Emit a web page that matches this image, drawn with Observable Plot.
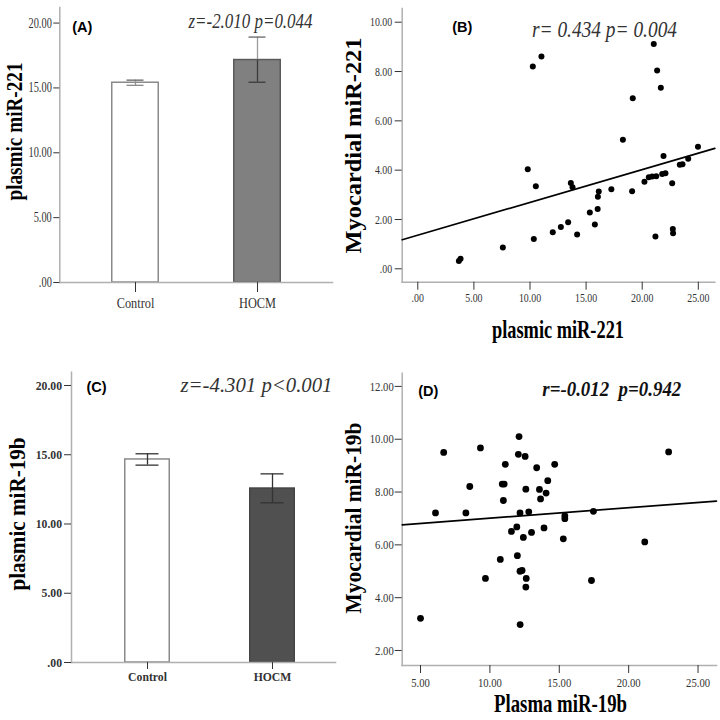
<!DOCTYPE html>
<html>
<head>
<meta charset="utf-8">
<script src="https://cdn.jsdelivr.net/npm/d3@7"></script>
<script src="https://cdn.jsdelivr.net/npm/@observablehq/plot@0.6"></script>
<style>
  html, body { margin: 0; padding: 0; background: #fff; }
  #wrap { position: relative; width: 720px; height: 720px; overflow: hidden; }
  .panel { position: absolute; }
</style>
</head>
<body>
<div id="wrap"></div>
<script>
// ---------------- DATA ----------------
const groups = ["Control", "HOCM"];

// Panel A: plasmic miR-221 (mean with error bar)
const miR221Mean = [15.40, 17.15];
const miR221Lo   = [15.20, 15.44];
const miR221Hi   = [15.60, 18.92];

// Panel C: plasmic miR-19b
const miR19bMean = [14.66, 12.56];
const miR19bLo   = [14.25, 11.53];
const miR19bHi   = [15.07, 13.62];

// Panel B: plasmic miR-221 (x) vs myocardial miR-221 (y)
const plasma221 = [3.66, 3.81, 7.58, 9.80, 10.25, 11.02, 10.52, 10.34, 12.03, 12.75,
  13.40, 13.64, 13.79, 14.20, 15.33, 15.78, 16.03, 16.05, 16.13, 17.25,
  18.28, 19.16, 19.10, 20.20, 20.59, 20.89, 21.25, 21.78, 22.07, 21.03,
  21.33, 21.66, 21.90, 21.18, 22.67, 22.73, 22.75, 23.35, 23.59, 24.10, 24.97];
const myo221 = [0.32, 0.41, 0.86, 4.04, 8.20, 8.61, 3.35, 1.21, 1.48, 1.70,
  1.89, 3.48, 3.31, 1.39, 2.28, 1.80, 2.43, 2.92, 3.13, 3.23,
  5.23, 6.92, 3.15, 3.53, 3.71, 3.74, 3.75, 3.84, 3.88, 9.12,
  8.04, 7.34, 4.57, 1.31, 3.47, 1.61, 1.44, 4.22, 4.24, 4.46, 4.95];
const fitB = {intercept: 1.365, slope: 0.133};

// Panel D: plasma miR-19b (x) vs myocardial miR-19b (y)
const plasma19b = [5.00, 6.08, 6.67, 8.27, 8.55, 9.32, 9.68, 10.75, 10.97, 10.89,
  11.03, 11.11, 11.55, 11.94, 11.98, 12.05, 12.10, 12.17, 12.18, 12.17,
  12.32, 12.41, 12.54, 12.59, 12.62, 12.59, 12.80, 13.00, 13.37, 13.57,
  13.65, 13.90, 14.05, 14.17, 14.67, 15.29, 15.40, 15.40, 17.46, 17.32,
  21.16, 22.88];
const myo19b = [3.22, 7.21, 9.50, 7.21, 8.21, 9.67, 4.73, 5.45, 7.68, 8.30,
  8.30, 9.05, 6.51, 6.68, 5.59, 9.43, 10.10, 7.21, 2.98, 5.00,
  5.03, 6.28, 9.35, 8.11, 4.73, 4.40, 7.25, 6.47, 8.92, 8.10,
  7.74, 6.64, 7.96, 8.43, 9.05, 6.23, 7.10, 6.99, 7.27, 4.65,
  6.11, 9.52];
const fitD = {intercept: 6.614, slope: 0.0397};

// Tick values
const yTicksA = [0, 5, 10, 15, 20];
const yTicksC = [0, 5, 10, 15, 20];
const xTicksB = [0, 5, 10, 15, 20, 25];
const yTicksB = [0, 2, 4, 6, 8, 10];
const xTicksD = [5, 10, 15, 20, 25];
const yTicksD = [2, 4, 6, 8, 10, 12];

// Texts
const statA = "z=-2.010 p=0.044";
const statB = "r= 0.434 p= 0.004";
const statC = "z=-4.301 p<0.001";
const statD = "r=-0.012  p=0.942";

// ---------------- STYLE ----------------
const serif = "'Liberation Serif', 'Times New Roman', serif";
const sans = "'Liberation Sans', Arial, sans-serif";
const fmt = d => d === 0 ? ".00" : d.toFixed(2);
const axisLine = "#b0b0b0";

const wrap = document.getElementById("wrap");

function label(p, s) {
  return Plot.text([s.text], {
    text: d => d,
    frameAnchor: "top-left",
    dx: s.gx - p.left - p.ml,
    dy: s.gy - p.top - p.mt,
    textAnchor: s.anchor || "middle",
    lineAnchor: "bottom",
    rotate: s.rotate || 0,
    fontSize: s.size,
    fontFamily: s.family || serif,
    fontWeight: s.weight || "normal",
    fontStyle: s.style || "normal",
    fill: s.fill || "#000"
  });
}

function mount(p, marks, opts, labels, condense) {
  const svg = Plot.plot({
    width: p.w, height: p.h,
    marginLeft: p.ml, marginRight: p.mr, marginTop: p.mt, marginBottom: p.mb,
    style: {overflow: "visible", background: "transparent", fontFamily: serif},
    color: {type: "identity"},
    ...opts,
    marks: [...marks, ...labels.map(s => label(p, s))]
  });
  const div = document.createElement("div");
  div.className = "panel";
  div.style.left = p.left + "px";
  div.style.top = p.top + "px";
  div.appendChild(svg);
  wrap.appendChild(div);
  // stretch condensed text to match the reference widths
  const lens = new Map(labels.filter(s => s.len).map(s => [s.text, s.len]));
  d3.select(svg).selectAll("text").each(function () {
    const t = this.textContent;
    if (lens.has(t)) {
      this.setAttribute("textLength", lens.get(t));
      this.setAttribute("lengthAdjust", "spacingAndGlyphs");
    }
  });
  // condensed tick labels (the original font is a narrow Times)
  for (const [axis, factor] of Object.entries(condense || {})) {
    d3.select(svg).selectAll(`g[aria-label="${axis}-axis tick label"] text`).each(function () {
      const w = this.getComputedTextLength();
      this.setAttribute("textLength", (w * factor).toFixed(2));
      this.setAttribute("lengthAdjust", "spacingAndGlyphs");
    });
  }
}

// ---------------- PANEL A ----------------
{
  const p = {left: 0, top: 0, w: 360, h: 360, ml: 59.3, mr: 28, mt: 7, mb: 78};
  const rows = groups.map((g, i) => ({g, mean: miR221Mean[i], lo: miR221Lo[i], hi: miR221Hi[i]}));
  const fills = ["#ffffff", "#808080"], strokes = ["#8a8a8a", "#5a5a5a"], lowStroke = ["#8a8a8a", "#3a3a3a"];
  mount(p, [
    Plot.barY(rows, {x: "g", y: "mean", fill: (d, i) => fills[i], stroke: (d, i) => strokes[i], strokeWidth: 1.5, insetLeft: 0.75, insetRight: 0.75}),
    Plot.ruleX(rows, {x: "g", y1: "mean", y2: "hi", stroke: "#9a9a9a", strokeWidth: 1.3}),
    Plot.ruleX(rows, {x: "g", y1: "lo", y2: "mean", stroke: (d, i) => lowStroke[i], strokeWidth: 1.3}),
    Plot.tickY(rows, {x: "g", y: "hi", stroke: "#666", strokeWidth: 1.3, insetLeft: 15.5, insetRight: 15.5}),
    Plot.tickY(rows, {x: "g", y: "lo", stroke: (d, i) => lowStroke[i], strokeWidth: 1.3, insetLeft: 15.5, insetRight: 15.5}),
    Plot.frame({anchor: "left", stroke: axisLine, strokeWidth: 1.5}),
    Plot.frame({anchor: "bottom", stroke: axisLine, strokeWidth: 1.5}),
    Plot.axisY({ticks: yTicksA, tickFormat: fmt, tickSize: 6, tickPadding: 2, fontSize: 14, fontFamily: serif, color: "#333", label: null}),
    Plot.axisX({tickSize: 10, tickPadding: 6, fontSize: 14, fontFamily: serif, color: "#333", label: null})
  ], {
    x: {domain: groups, paddingInner: 0.606, paddingOuter: 0.412, align: 0.5},
    y: {domain: [0, 21.2]}
  }, [
    {text: "(A)", gx: 71.7, gy: 31, anchor: "start", size: 14.5, family: sans, weight: "bold"},
    {text: statA, gx: 250, gy: 27, size: 22, style: "italic", fill: "#333", len: 124},
    {text: "plasmic miR-221", gx: 21, gy: 131, rotate: -90, size: 23, weight: "bold", len: 138}
  ], {y: 0.74, x: 0.88});
}

// ---------------- PANEL B ----------------
{
  const p = {left: 360, top: 0, w: 360, h: 360, ml: 41.7, mr: 5.7, mt: 8, mb: 78.3};
  const xDom = [-1.39, 26.47];
  const pts = plasma221.map((x, i) => ({x, y: myo221[i]}));
  const fit = xDom.map(x => ({x, y: fitB.intercept + fitB.slope * x}));
  mount(p, [
    Plot.frame({anchor: "left", stroke: axisLine, strokeWidth: 1.5}),
    Plot.frame({anchor: "bottom", stroke: axisLine, strokeWidth: 1.5}),
    Plot.line(fit, {x: "x", y: "y", stroke: "#000", strokeWidth: 1.7}),
    Plot.dot(pts, {x: "x", y: "y", r: 3, fill: "#000"}),
    Plot.axisY({ticks: yTicksB, tickFormat: fmt, tickSize: 7, tickPadding: 3, fontSize: 13, fontFamily: serif, color: "#333", label: null}),
    Plot.axisX({ticks: xTicksB, tickFormat: fmt, tickSize: 8, tickPadding: 3, fontSize: 13, fontFamily: serif, color: "#333", label: null})
  ], {
    x: {domain: xDom},
    y: {domain: [-0.543, 10.556]}
  }, [
    {text: "(B)", gx: 451.7, gy: 31.5, anchor: "start", size: 14.5, family: sans, weight: "bold"},
    {text: statB, gx: 604, gy: 36, size: 23, style: "italic", fill: "#333", len: 145},
    {text: "Myocardial miR-221", gx: 360.5, gy: 145, rotate: -90, size: 23, weight: "bold", len: 216},
    {text: "plasmic miR-221", gx: 557.5, gy: 337, size: 25, weight: "bold", len: 132}
  ], {y: 0.76, x: 0.76});
}

// ---------------- PANEL C ----------------
{
  const p = {left: 0, top: 360, w: 360, h: 360, ml: 71, mr: 25, mt: 11.7, mb: 58};
  const rows = groups.map((g, i) => ({g, mean: miR19bMean[i], lo: miR19bLo[i], hi: miR19bHi[i]}));
  const fills = ["#ffffff", "#505050"], strokes = ["#8a8a8a", "#444444"];
  mount(p, [
    Plot.barY(rows, {x: "g", y: "mean", fill: (d, i) => fills[i], stroke: (d, i) => strokes[i], strokeWidth: 1.5, insetLeft: 0.75, insetRight: 0.75}),
    Plot.ruleX(rows, {x: "g", y1: "lo", y2: "hi", stroke: "#333", strokeWidth: 1.3}),
    Plot.tickY(rows, {x: "g", y: "hi", stroke: "#333", strokeWidth: 1.3, insetLeft: 11.5, insetRight: 11.5}),
    Plot.tickY(rows, {x: "g", y: "lo", stroke: "#333", strokeWidth: 1.3, insetLeft: 11.5, insetRight: 11.5}),
    Plot.frame({anchor: "left", stroke: axisLine, strokeWidth: 1.5}),
    Plot.frame({anchor: "bottom", stroke: axisLine, strokeWidth: 1.5}),
    Plot.axisY({ticks: yTicksC, tickFormat: fmt, tickSize: 7, tickPadding: 2.5, fontSize: 13, fontWeight: "bold", fontFamily: serif, color: "#333", label: null}),
    Plot.axisX({tickSize: 7, tickPadding: 2, fontSize: 13, fontWeight: "bold", fontFamily: serif, color: "#333", label: null})
  ], {
    x: {domain: groups, paddingInner: 0.634, paddingOuter: 0.369, align: 0.565},
    y: {domain: [0, 20.96]}
  }, [
    {text: "(C)", gx: 86, gy: 391.5, anchor: "start", size: 14.5, family: sans, weight: "bold"},
    {text: statC, gx: 256, gy: 391.7, size: 21, style: "italic", fill: "#333", len: 152},
    {text: "plasmic miR-19b", gx: 24, gy: 513.5, rotate: -90, size: 23, weight: "bold", len: 153}
  ], {y: 0.9, x: 0.9});
}

// ---------------- PANEL D ----------------
{
  const p = {left: 360, top: 360, w: 360, h: 360, ml: 41.7, mr: 4, mt: 12.7, mb: 55};
  const xDom = [3.68, 26.33];
  const pts = plasma19b.map((x, i) => ({x, y: myo19b[i]}));
  const fit = xDom.map(x => ({x, y: fitD.intercept + fitD.slope * x}));
  mount(p, [
    Plot.frame({anchor: "left", stroke: axisLine, strokeWidth: 1.5}),
    Plot.frame({anchor: "bottom", stroke: axisLine, strokeWidth: 1.5}),
    Plot.line(fit, {x: "x", y: "y", stroke: "#000", strokeWidth: 1.7}),
    Plot.dot(pts, {x: "x", y: "y", r: 3.4, fill: "#000"}),
    Plot.axisY({ticks: yTicksD, tickFormat: fmt, tickSize: 7, tickPadding: 1.5, fontSize: 13, fontFamily: serif, color: "#333", label: null}),
    Plot.axisX({ticks: xTicksD, tickFormat: fmt, tickSize: 8, tickPadding: 4, fontSize: 13, fontFamily: serif, color: "#333", label: null})
  ], {
    x: {domain: xDom},
    y: {domain: [1.432, 12.5]}
  }, [
    {text: "(D)", gx: 417.7, gy: 395, anchor: "start", size: 14.5, family: sans, weight: "bold"},
    {text: statD, gx: 611.3, gy: 395, size: 21, style: "italic", weight: "bold", fill: "#111", len: 139},
    {text: "Myocardial miR-19b", gx: 360.5, gy: 517.5, rotate: -90, size: 23, weight: "bold", len: 191},
    {text: "Plasma miR-19b", gx: 560, gy: 711.5, size: 25, weight: "bold", len: 133}
  ], {y: 0.82, x: 0.82});
}
</script>
</body>
</html>
